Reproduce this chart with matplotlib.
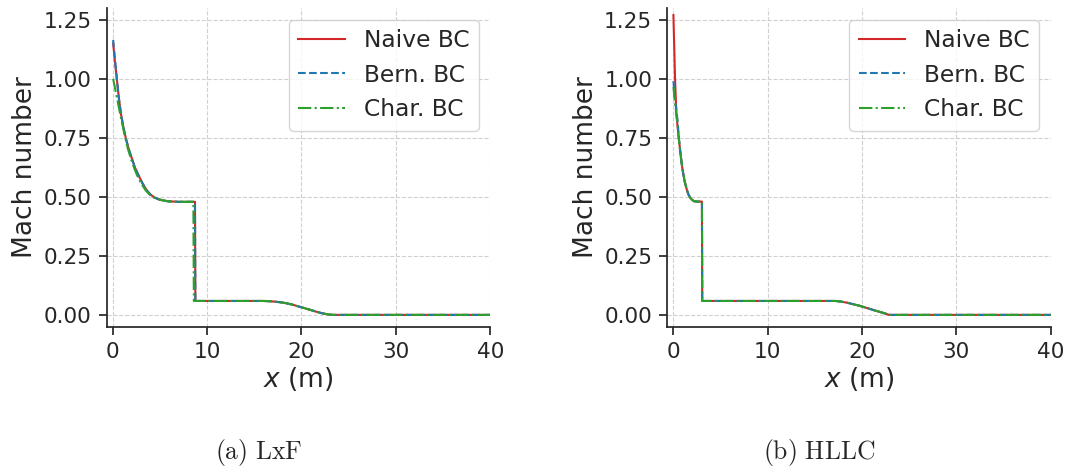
import matplotlib
matplotlib.use("Agg")
import matplotlib.pyplot as plt

# ---- LxF scheme: Mach number along the channel ----
lxf_naive_x = [0.05, 0.25, 0.44, 0.65, 0.9, 1.15, 1.4, 1.7, 2.03, 2.35, 2.73, 3.15, 3.6, 4.0, 4.48, 4.85, 5.2,
               5.9, 7.0, 8.72, 8.76, 12.0, 16.0, 16.6, 17.2, 18.07, 19.0, 19.84, 20.8, 21.6, 22.3, 22.8, 23.3,
               30.0, 40.0]
lxf_naive_y = [1.15, 1.07, 1.0, 0.92, 0.846, 0.793, 0.747, 0.703, 0.663, 0.625, 0.592, 0.558, 0.528, 0.51,
               0.496, 0.49, 0.486, 0.481, 0.479, 0.479, 0.059, 0.059, 0.059, 0.058, 0.056, 0.052, 0.044, 0.034,
               0.023, 0.013, 0.006, 0.002, 0.0, 0.0, 0.0]

lxf_bern_x = [0.05, 0.25, 0.44, 0.65, 0.9, 1.15, 1.4, 1.7, 2.03, 2.35, 2.73, 3.15, 3.6, 4.0, 4.48, 4.85, 5.2,
              5.9, 7.0, 8.72, 8.76, 12.0, 16.0, 16.6, 17.2, 18.07, 19.0, 19.84, 20.8, 21.6, 22.3, 22.8, 23.3,
              30.0, 40.0]
lxf_bern_y = [1.165, 1.08, 1.0, 0.92, 0.846, 0.793, 0.747, 0.703, 0.663, 0.625, 0.592, 0.558, 0.528, 0.51,
              0.496, 0.49, 0.486, 0.481, 0.479, 0.479, 0.059, 0.059, 0.059, 0.058, 0.056, 0.052, 0.044, 0.034,
              0.023, 0.013, 0.006, 0.002, 0.0, 0.0, 0.0]

lxf_char_x = [0.05, 0.3, 0.6, 0.9, 1.3, 1.6, 1.9, 2.25, 2.6, 3.05, 3.5, 3.95, 4.4, 4.8, 5.2, 5.9, 7.0, 8.55,
              8.6, 12.0, 16.0, 16.6, 17.2, 18.07, 19.0, 19.84, 20.8, 21.6, 22.3, 22.8, 23.3, 30.0, 40.0]
lxf_char_y = [1.0, 0.95, 0.89, 0.83, 0.755, 0.706, 0.665, 0.625, 0.59, 0.555, 0.527, 0.508, 0.496, 0.49,
              0.486, 0.481, 0.479, 0.479, 0.059, 0.059, 0.059, 0.058, 0.056, 0.052, 0.044, 0.034, 0.023, 0.013,
              0.006, 0.002, 0.0, 0.0, 0.0]

# ---- HLLC scheme ----
hllc_naive_x = [0.03, 0.2, 0.35, 0.6, 0.88, 1.05, 1.23, 1.45, 1.65, 1.85, 2.0, 2.18, 2.5, 3.05, 3.08,
                8.0, 14.0, 17.2, 17.7, 18.5, 19.8, 20.7, 21.6, 22.2, 22.6, 22.9, 30.0, 40.0]
hllc_naive_y = [1.27, 1.0, 0.846, 0.747, 0.648, 0.603, 0.564, 0.53, 0.507, 0.494, 0.488, 0.482, 0.48, 0.48,
                0.059, 0.059, 0.059, 0.059, 0.057, 0.051, 0.038, 0.027, 0.016, 0.009, 0.004, 0.0, 0.0, 0.0]

hllc_bern_x = [0.03, 0.15, 0.28, 0.45, 0.6, 0.88, 1.05, 1.23, 1.45, 1.65, 1.85, 2.0, 2.18, 2.5, 3.05, 3.08,
               8.0, 14.0, 17.2, 17.7, 18.5, 19.8, 20.7, 21.6, 22.2, 22.6, 22.9, 30.0, 40.0]
hllc_bern_y = [0.99, 0.93, 0.885, 0.83, 0.75, 0.648, 0.603, 0.564, 0.53, 0.507, 0.494, 0.488, 0.482, 0.48,
               0.48, 0.059, 0.059, 0.059, 0.059, 0.057, 0.051, 0.038, 0.027, 0.016, 0.009, 0.004, 0.0, 0.0, 0.0]

hllc_char_x = [0.03, 0.15, 0.28, 0.45, 0.6, 0.88, 1.05, 1.23, 1.45, 1.65, 1.85, 2.0, 2.18, 2.5, 3.05, 3.08,
               8.0, 14.0, 17.2, 17.7, 18.5, 19.8, 20.7, 21.6, 22.2, 22.6, 22.9, 30.0, 40.0]
hllc_char_y = [0.965, 0.915, 0.87, 0.815, 0.745, 0.648, 0.603, 0.564, 0.53, 0.507, 0.494, 0.488, 0.482, 0.48,
               0.48, 0.059, 0.059, 0.059, 0.059, 0.057, 0.051, 0.038, 0.027, 0.016, 0.009, 0.004, 0.0, 0.0, 0.0]

series_labels = ["Naive BC", "Bern. BC", "Char. BC"]
x_ticks = [0, 10, 20, 30, 40]
y_ticks = [0.0, 0.25, 0.5, 0.75, 1.0, 1.25]
captions = [r"$\mathrm{(a)\ LxF}$", r"$\mathrm{(b)\ HLLC}$"]

TXT = "#262626"
plt.rcParams.update({
    "font.family": "DejaVu Sans",
    "text.color": TXT,
    "axes.labelcolor": TXT,
    "xtick.color": TXT,
    "ytick.color": TXT,
    "axes.edgecolor": TXT,
})

fig = plt.figure(figsize=(10.69, 4.70), dpi=100)
ax_a = fig.add_axes([0.1001, 0.3049, 0.3585, 0.6781])
ax_b = fig.add_axes([0.6244, 0.3049, 0.3585, 0.6781])

panels = [
    (ax_a, [(lxf_naive_x, lxf_naive_y), (lxf_bern_x, lxf_bern_y), (lxf_char_x, lxf_char_y)]),
    (ax_b, [(hllc_naive_x, hllc_naive_y), (hllc_bern_x, hllc_bern_y), (hllc_char_x, hllc_char_y)]),
]
styles = [("#d62728", "-"), ("#1f77b4", "--"), ("#2ca02c", "-.")]

for ax, curves in panels:
    for (xs, ys), (col, ls), lab in zip(curves, styles, series_labels):
        ax.plot(xs, ys, color=col, linestyle=ls, linewidth=1.5, label=lab)
    ax.set_xlim(-0.6, 40)
    ax.set_ylim(-0.05, 1.30)
    ax.set_xticks(x_ticks)
    ax.set_yticks(y_ticks)
    ax.set_yticklabels([f"{v:.2f}" for v in y_ticks])
    ax.grid(True, linestyle="--", color="#d0d0d0", linewidth=0.8)
    ax.set_axisbelow(True)
    for side in ("top", "right"):
        ax.spines[side].set_visible(False)
    for side in ("left", "bottom"):
        ax.spines[side].set_linewidth(1.25)
    ax.tick_params(axis="both", labelsize=15.6, length=6, width=1.25, direction="out", pad=5)
    ax.set_xlabel(r"$x$ (m)", fontsize=19, labelpad=2)
    ax.set_ylabel("Mach number", fontsize=19, labelpad=4)
    ax.legend(loc="upper right", fontsize=16.8, frameon=True, fancybox=True,
              framealpha=0.8, edgecolor="#cccccc")

fig.text(0.2418, 0.038, captions[0], ha="center", va="center", fontsize=18.5, math_fontfamily="cm")
fig.text(0.7666, 0.038, captions[1], ha="center", va="center", fontsize=18.5, math_fontfamily="cm")

fig.savefig("out.png", dpi=100)
